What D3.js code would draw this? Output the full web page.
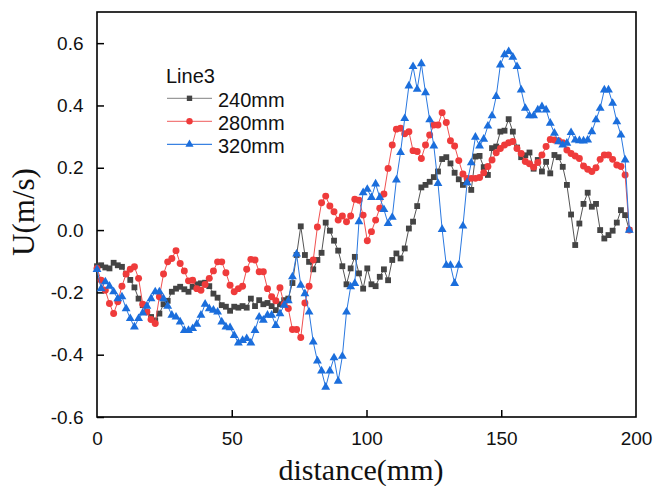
<!DOCTYPE html>
<html>
<head>
<meta charset="utf-8">
<script src="https://cdn.jsdelivr.net/npm/d3@7"></script>
<style>
  html, body { margin: 0; padding: 0; background: #fff; }
  svg { display: block; }
</style>
</head>
<body>
<svg id="chart" width="657" height="486"></svg>
<script>
// sampling positions along the section (mm), ~1.54 mm apart
const distance = d3.range(0, 198, 1.543);

const u240 = [
  -0.116, -0.113, -0.12, -0.123, -0.105, -0.113, -0.118, -0.141, -0.16, -0.184,
  -0.22, -0.241, -0.263, -0.279, -0.29, -0.268, -0.238, -0.227, -0.198, -0.188,
  -0.182, -0.19, -0.198, -0.182, -0.174, -0.171, -0.169, -0.18, -0.204, -0.217,
  -0.241, -0.246, -0.259, -0.246, -0.249, -0.244, -0.249, -0.22, -0.244, -0.225,
  -0.238, -0.234, -0.244, -0.257, -0.238, -0.225, -0.22, -0.17, -0.08, 0.012,
  -0.08, -0.102, -0.126, -0.096, -0.073, 0.024, -0.002, -0.034, -0.066, -0.116,
  -0.174, -0.123, -0.086, -0.139, -0.188, -0.123, -0.174, -0.18, -0.15, -0.126,
  -0.161, -0.096, -0.075, -0.091, -0.059, 0.005, 0.027, 0.077, 0.137, 0.145,
  0.155, 0.17, 0.188, 0.228, 0.234, 0.214, 0.184, 0.163, 0.145, 0.155,
  0.129, 0.236, 0.238, 0.202, 0.177, 0.263, 0.268, 0.316, 0.319, 0.356,
  0.316, 0.265, 0.234, 0.24, 0.249, 0.197, 0.225, 0.188, 0.219, 0.182,
  0.241, 0.234, 0.203, 0.145, 0.05, -0.048, 0.021, 0.084, 0.12, 0.075,
  0.084, 0.0, -0.027, -0.016, -0.002, 0.024, 0.064, 0.048, 0.0
];

const u280 = [
  -0.123, -0.161, -0.193, -0.236, -0.268, -0.23, -0.18, -0.141, -0.126, -0.118,
  -0.155, -0.238, -0.263, -0.287, -0.3, -0.214, -0.141, -0.102, -0.091, -0.066,
  -0.107, -0.131, -0.163, -0.161, -0.188, -0.193, -0.175, -0.155, -0.131, -0.102,
  -0.102, -0.137, -0.177, -0.198, -0.188, -0.18, -0.126, -0.094, -0.096, -0.134,
  -0.134, -0.188, -0.214, -0.227, -0.185, -0.238, -0.252, -0.319, -0.319, -0.345,
  -0.234, -0.18, -0.096, 0.01, 0.088, 0.109, 0.077, 0.059, 0.032, 0.045,
  0.027, 0.045, 0.099, 0.096, 0.048, -0.034, -0.005, 0.032, 0.07, 0.116,
  0.198, 0.273, 0.324, 0.327, 0.309, 0.316, 0.255, 0.252, 0.23, 0.273,
  0.305, 0.337, 0.337, 0.377, 0.345, 0.287, 0.27, 0.223, 0.18, 0.166,
  0.166, 0.166, 0.169, 0.184, 0.204, 0.225, 0.248, 0.262, 0.273, 0.28,
  0.284, 0.262, 0.246, 0.22, 0.213, 0.202, 0.217, 0.241, 0.268, 0.291,
  0.289, 0.287, 0.28, 0.257, 0.246, 0.238, 0.23, 0.206, 0.195, 0.188,
  0.2, 0.227, 0.241, 0.241, 0.227, 0.209, 0.204, 0.177, 0.0
];

const u320 = [
  -0.126, -0.188, -0.166, -0.18, -0.198, -0.22, -0.214, -0.252, -0.284, -0.311,
  -0.284, -0.266, -0.244, -0.22, -0.198, -0.198, -0.22, -0.244, -0.273, -0.279,
  -0.295, -0.322, -0.322, -0.316, -0.302, -0.273, -0.238, -0.252, -0.257, -0.263,
  -0.295, -0.311, -0.313, -0.338, -0.362, -0.354, -0.348, -0.362, -0.322, -0.279,
  -0.289, -0.273, -0.273, -0.306, -0.268, -0.241, -0.227, -0.15, -0.077, -0.177,
  -0.204, -0.263, -0.359, -0.42, -0.452, -0.504, -0.452, -0.41, -0.485, -0.405,
  -0.263, -0.182, -0.171, 0.027, 0.12, 0.131, 0.105, 0.148, 0.105, 0.066,
  0.021, 0.041, 0.161, 0.249, 0.358, 0.463, 0.525, 0.452, 0.534, 0.441,
  0.354, 0.27, 0.15, 0.002, -0.113, -0.113, -0.171, -0.113, 0.013, 0.152,
  0.216, 0.298, 0.27, 0.292, 0.334, 0.367, 0.429, 0.53, 0.563, 0.573,
  0.555, 0.525, 0.45, 0.391, 0.367, 0.367, 0.386, 0.396, 0.386, 0.343,
  0.311, 0.284, 0.273, 0.279, 0.313, 0.289, 0.287, 0.286, 0.289, 0.316,
  0.354, 0.391, 0.45, 0.45, 0.407, 0.348, 0.305, 0.225, 0.0
];

const seriesNames = ["240mm", "280mm", "320mm"];
const xTicks = [0, 50, 100, 150, 200];
const xTickLabels = ["0", "50", "100", "150", "200"];
const yTicks = [-0.6, -0.4, -0.2, 0.0, 0.2, 0.4, 0.6];
const yTickLabels = ["-0.6", "-0.4", "-0.2", "0.0", "0.2", "0.4", "0.6"];

const series = [
  { name: seriesNames[0], values: u240, color: "#444444", line: "#555555", key: "#9a9a9a", symbol: d3.symbolSquare, size: 34 },
  { name: seriesNames[1], values: u280, color: "#ef3b3b", line: "#f05050", key: "#f27c7c", symbol: d3.symbolCircle, size: 38 },
  { name: seriesNames[2], values: u320, color: "#1b6edc", line: "#2a78e0", key: "#3a82e2", symbol: d3.symbolTriangle, size: 34 }
];

const sans = "'Liberation Sans', Arial, sans-serif";
const serif = "'Liberation Serif', 'Times New Roman', serif";

const svg = d3.select("#chart");
const plot = { left: 97, right: 636, top: 12, bottom: 417 };

const x = d3.scaleLinear().domain([0, 200]).range([plot.left, plot.right]);
const y = d3.scaleLinear().domain([-0.6, 0.7]).range([plot.bottom, plot.top]);

// axes, ticks pointing inward
const xAxis = d3.axisBottom(x).tickValues(xTicks)
  .tickFormat((d, i) => xTickLabels[i]).tickSize(-7).tickPadding(14.5);
const yAxis = d3.axisLeft(y).tickValues(yTicks)
  .tickFormat((d, i) => yTickLabels[i]).tickSize(-7).tickPadding(13.5);

const gx = svg.append("g").attr("transform", `translate(0,${plot.bottom})`).call(xAxis);
const gy = svg.append("g").attr("transform", `translate(${plot.left},0)`).call(yAxis);
[gx, gy].forEach(g => {
  g.select(".domain").remove();
  g.selectAll(".tick line").attr("stroke", "#000").attr("stroke-width", 1.5);
  g.selectAll(".tick text").attr("fill", "#111").style("font-family", sans).style("font-size", "19px");
});
gx.selectAll(".tick line").filter(d => d === 0 || d === 200).remove();

// frame
svg.append("rect")
  .attr("x", plot.left).attr("y", plot.top)
  .attr("width", plot.right - plot.left).attr("height", plot.bottom - plot.top)
  .attr("fill", "none").attr("stroke", "#000").attr("stroke-width", 1.6);

// series
const line = d3.line().x((d, i) => x(distance[i])).y(d => y(d));

series.forEach(s => {
  const g = svg.append("g");
  g.append("path")
    .attr("d", line(s.values))
    .attr("fill", "none")
    .attr("stroke", s.line)
    .attr("stroke-width", 1);
  g.selectAll("path.pt")
    .data(s.values)
    .join("path")
    .attr("class", "pt")
    .attr("transform", (d, i) => `translate(${x(distance[i])},${y(d)})`)
    .attr("d", d3.symbol().type(s.symbol).size(s.size))
    .attr("fill", s.color);
});

// axis titles
svg.append("text")
  .attr("x", 361).attr("y", 480)
  .attr("text-anchor", "middle")
  .style("font-family", serif).style("font-size", "30px")
  .attr("fill", "#111")
  .text("distance(mm)");

svg.append("text")
  .attr("transform", "translate(34,212) rotate(-90)")
  .attr("text-anchor", "middle")
  .style("font-family", serif).style("font-size", "31px")
  .attr("fill", "#111")
  .text("U(m/s)");

// legend
const legend = svg.append("g");
legend.append("text")
  .attr("x", 166).attr("y", 83.3)
  .style("font-family", sans).style("font-size", "20px")
  .attr("fill", "#111")
  .text("Line3");

series.forEach((s, i) => {
  const ly = 98.3 + i * 23;
  legend.append("line")
    .attr("x1", 167).attr("x2", 212).attr("y1", ly).attr("y2", ly)
    .attr("stroke", s.key).attr("stroke-width", 1.2);
  legend.append("path")
    .attr("transform", `translate(189.5,${ly})`)
    .attr("d", d3.symbol().type(s.symbol).size(s.size * 0.85))
    .attr("fill", s.color);
  legend.append("text")
    .attr("x", 218).attr("y", ly + 8.4)
    .style("font-family", sans).style("font-size", "20px")
    .attr("fill", "#111")
    .text(s.name);
});
</script>
</body>
</html>
